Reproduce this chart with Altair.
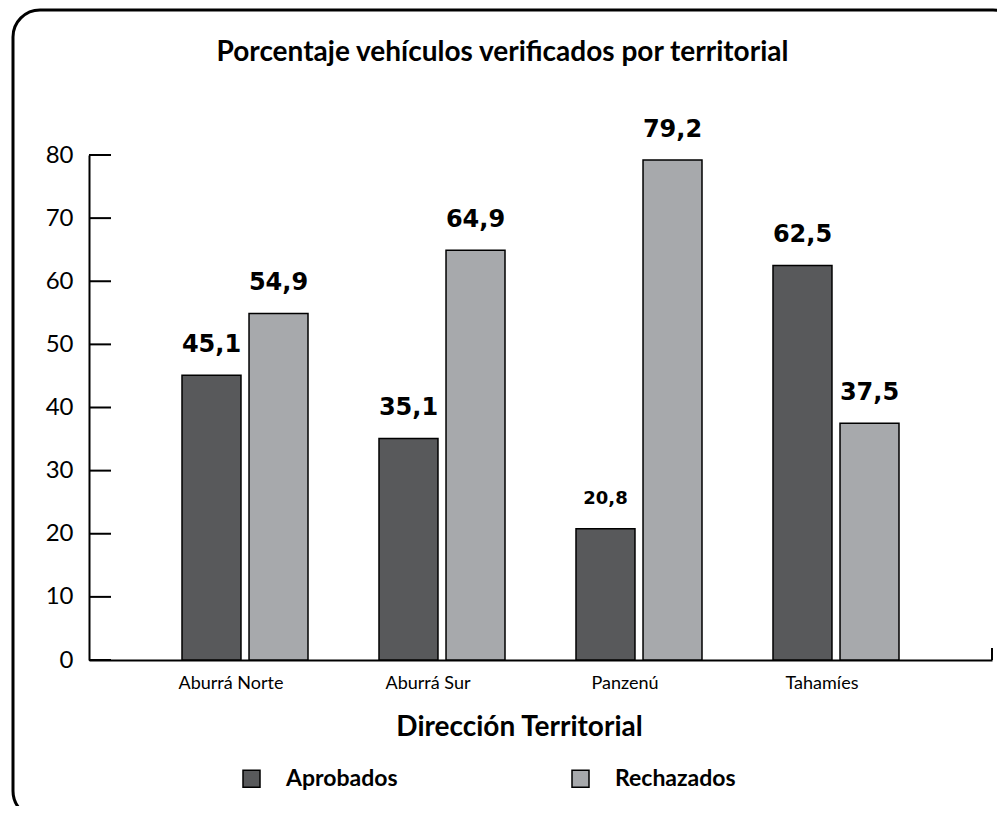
import altair as alt
import pandas as pd

categories = ["Aburrá Norte", "Aburrá Sur", "Panzenú", "Tahamíes"]
series = ["Aprobados", "Rechazados"]
aprobados = [45.1, 35.1, 20.8, 62.5]
rechazados = [54.9, 64.9, 79.2, 37.5]
y_ticks = [0, 10, 20, 30, 40, 50, 60, 70, 80]
colors = ["#58595b", "#a7a9ac"]

rows = []
for c, a, r in zip(categories, aprobados, rechazados):
    rows.append({"cat": c, "serie": series[0], "value": a})
    rows.append({"cat": c, "serie": series[1], "value": r})
df = pd.DataFrame(rows)

FONT = "Lato"
NUMFONT = "DejaVu Sans"
W, H = 903, 505

x_enc = alt.X(
    "cat:N",
    sort=categories,
    scale=alt.Scale(paddingInner=0.3604, paddingOuter=0.4721),
    axis=alt.Axis(
        title="Dirección Territorial",
        titleFontSize=28,
        titleFontWeight="bold",
        titleFont=FONT,
        titleColor="black",
        titleX=430,
        titleY=67,
        titleBaseline="middle",
        titleAnchor="start",
        titleAlign="center",
        labelAngle=0,
        labelFontSize=18,
        labelFont=FONT,
        labelColor="black",
        labelPadding=14,
        labelOffset=-14,
        ticks=False,
        domainColor="black",
        domainWidth=2,
    ),
)
xo_enc = alt.XOffset("serie:N", sort=series, scale=alt.Scale(paddingInner=0.12, paddingOuter=0))
y_enc = alt.Y(
    "value:Q",
    scale=alt.Scale(domain=[0, 80], nice=False, zero=True),
    axis=alt.Axis(
        title=None,
        values=y_ticks,
        ticks=False,
        grid=False,
        labelFontSize=24,
        labelFont=FONT,
        labelColor="black",
        labelPadding=16,
        domainColor="black",
        domainWidth=2,
    ),
)

base = alt.Chart(df)

bars = base.mark_bar(stroke="black", strokeWidth=1.5).encode(
    x=x_enc,
    xOffset=xo_enc,
    y=y_enc,
    color=alt.Color(
        "serie:N",
        sort=series,
        scale=alt.Scale(domain=series, range=colors),
        legend=alt.Legend(
            title=None,
            orient="none",
            direction="horizontal",
            legendX=151,
            legendY=612,
            symbolType="square",
            symbolSize=289,
            symbolStrokeColor="black",
            symbolStrokeWidth=1.5,
            symbolOpacity=1,
            labelFontSize=23,
            labelFontWeight="bold",
            labelFont=FONT,
            labelColor="black",
            labelOffset=23,
            columnPadding=171,
        ),
    ),
)

label_calc = "replace(format(datum.value, '.1f'), '.', ',')"
is_small = "datum.cat == 'Panzenú' && datum.serie == 'Aprobados'"

labels = base.transform_calculate(lbl=label_calc).transform_filter(
    "!(" + is_small + ")"
).mark_text(fontSize=24, fontWeight="bold", font=NUMFONT, baseline="middle", dy=-30, color="black").encode(
    x=alt.X("cat:N", sort=categories), xOffset=alt.XOffset("serie:N", sort=series), y="value:Q", text="lbl:N"
)

labels_small = base.transform_calculate(lbl=label_calc).transform_filter(
    is_small
).mark_text(fontSize=18, fontWeight="bold", font=NUMFONT, baseline="middle", dy=-30, color="black").encode(
    x=alt.X("cat:N", sort=categories), xOffset=alt.XOffset("serie:N", sort=series), y="value:Q", text="lbl:N"
)

tick_df = pd.DataFrame({"value": y_ticks})
yticks = alt.Chart(tick_df).mark_rule(color="black", strokeWidth=2).encode(
    y="value:Q", x=alt.value(0), x2=alt.value(22)
)

end_tick = alt.Chart(pd.DataFrame({"k": [0]})).mark_rule(color="black", strokeWidth=2).encode(
    x=alt.value(W), y=alt.value(H - 12), y2=alt.value(H)
)

frame = alt.Chart(pd.DataFrame({"k": [0]})).mark_rect(
    fill="white", fillOpacity=0, stroke="black", strokeWidth=3, cornerRadius=27
).encode(
    x=alt.value(-76), x2=alt.value(931), y=alt.value(-145), y2=alt.value(663)
)

chart = alt.layer(frame, bars, labels, labels_small, yticks, end_tick).properties(
    width=W,
    height=H,
    background="white",
    autosize=alt.AutoSizeParams(type="none"),
    padding={"left": 81, "top": 147, "right": 5, "bottom": 146},
    title=alt.TitleParams(
        text="Porcentaje vehículos verificados por territorial",
        fontSize=28,
        fontWeight="bold",
        font=FONT,
        color="black",
        anchor="middle",
        baseline="middle",
        dx=-38,
        dy=72,
        offset=0,
    ),
).configure_view(stroke="transparent", strokeWidth=0)

chart.save("out.html", embed_options={"renderer": "svg", "actions": False})
